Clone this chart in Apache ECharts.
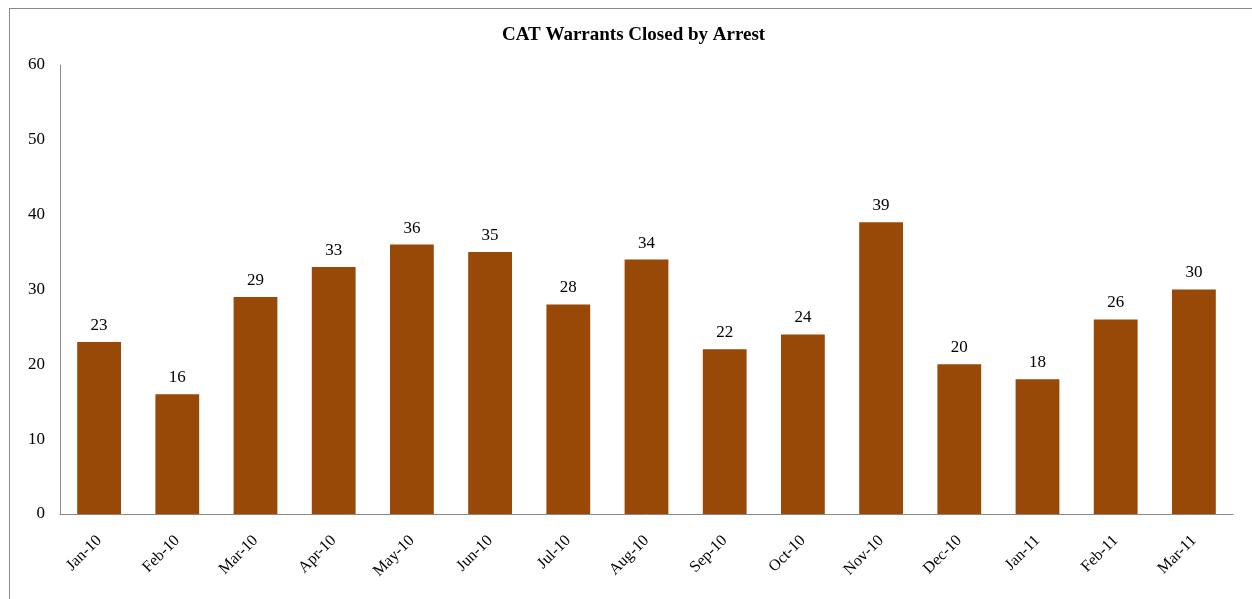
<!DOCTYPE html>
<html>
<head>
<meta charset="utf-8">
<script src="https://cdn.jsdelivr.net/npm/echarts@6/dist/echarts.min.js"></script>
<style>
  html, body { margin: 0; padding: 0; background: #fff; }
  #frame { position: absolute; left: 9px; top: 8px; width: 1300px; height: 700px; border: 1px solid #888; box-sizing: border-box; }
  #chart { position: absolute; left: 0; top: 0; width: 1252px; height: 599px; }
</style>
</head>
<body>
<div id="frame"></div>
<div id="chart"></div>
<script>
const months = ['Jan-10', 'Feb-10', 'Mar-10', 'Apr-10', 'May-10', 'Jun-10', 'Jul-10', 'Aug-10',
  'Sep-10', 'Oct-10', 'Nov-10', 'Dec-10', 'Jan-11', 'Feb-11', 'Mar-11']
const arrests = [23, 16, 29, 33, 36, 35, 28, 34, 22, 24, 39, 20, 18, 26, 30]

const font = 'Liberation Serif, Times New Roman, serif'
const chart = echarts.init(document.getElementById('chart'))
chart.setOption({
  animation: false,
  title: {
    text: 'CAT Warrants Closed by Arrest',
    left: 497,
    top: 21,
    textStyle: { fontFamily: font, fontSize: 19, fontWeight: 'bold', color: '#000' }
  },
  grid: { left: 60, right: 19, top: 65, bottom: 85, containLabel: false },
  xAxis: {
    type: 'category',
    data: months,
    axisLine: { lineStyle: { color: '#888', width: 1 } },
    axisTick: { show: false },
    axisLabel: { rotate: 45, color: '#000', fontFamily: font, fontSize: 16, margin: 24, interval: 0 }
  },
  yAxis: {
    type: 'value',
    min: 0,
    max: 60,
    interval: 10,
    axisLine: { show: true, lineStyle: { color: '#888', width: 1 } },
    axisTick: { show: false },
    splitLine: { show: false },
    axisLabel: { color: '#000', fontFamily: font, fontSize: 17, margin: 15 }
  },
  series: [{
    type: 'bar',
    data: arrests,
    barWidth: '56%',
    itemStyle: { color: '#984807' },
    label: { show: true, position: 'top', distance: 8, color: '#000', fontFamily: font, fontSize: 17 }
  }]
})
</script>
</body>
</html>
